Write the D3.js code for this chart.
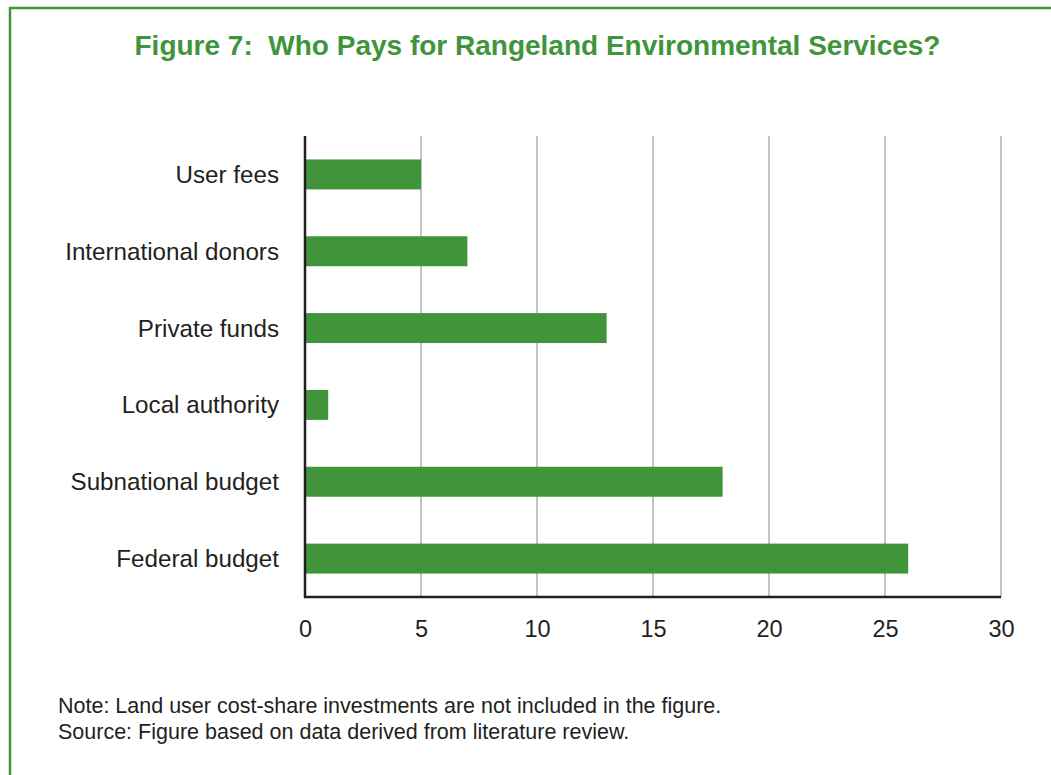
<!DOCTYPE html>
<html>
<head>
<meta charset="utf-8">
<script src="https://cdn.jsdelivr.net/npm/d3@7"></script>
<style>
  html, body { margin: 0; padding: 0; background: #fff; }
  svg { display: block; }
  text { font-family: "Liberation Sans", Arial, Helvetica, sans-serif; }
</style>
</head>
<body>
<svg id="chart" width="1051" height="775"></svg>
<script>
// Funding sources and the number of cases paid by each
const categories = ["User fees", "International donors", "Private funds", "Local authority", "Subnational budget", "Federal budget"];
const values = [5, 7, 13, 1, 18, 26];
const xTicks = [0, 5, 10, 15, 20, 25, 30];

const titleText = "Figure 7:  Who Pays for Rangeland Environmental Services?";
const noteLines = [
  "Note: Land user cost-share investments are not included in the figure.",
  "Source: Figure based on data derived from literature review."
];

const green = "#40953b";
const ink = "#231f20";

const svg = d3.select("#chart");
const W = 1051, H = 775;

// Frame: open box with green top and left rules
svg.append("path")
  .attr("d", `M10,${H} V8 H${W}`)
  .attr("fill", "none")
  .attr("stroke", green)
  .attr("stroke-width", 2.5);

// Title
svg.append("text")
  .attr("x", 537.5)
  .attr("y", 55)
  .attr("text-anchor", "middle")
  .attr("fill", green)
  .attr("font-size", 28)
  .attr("font-weight", "bold")
  .style("white-space", "pre")
  .text(titleText);

const plot = { left: 305, right: 1001, top: 136, bottom: 597 };

const x = d3.scaleLinear().domain([0, 30]).range([plot.left, plot.right]);
const y = d3.scaleBand().domain(categories).range([plot.top, plot.bottom]).paddingInner(0.61).paddingOuter(0.305);

// Vertical gridlines
svg.append("g")
  .selectAll("line")
  .data(xTicks.filter(d => d > 0))
  .join("line")
  .attr("x1", d => x(d)).attr("x2", d => x(d))
  .attr("y1", plot.top).attr("y2", plot.bottom)
  .attr("stroke", "#8a8a8a")
  .attr("stroke-width", 1);

// Bars
svg.append("g")
  .selectAll("rect")
  .data(categories.map((c, i) => ({ c, v: values[i] })))
  .join("rect")
  .attr("x", x(0))
  .attr("y", d => y(d.c))
  .attr("width", d => x(d.v) - x(0))
  .attr("height", y.bandwidth())
  .attr("fill", green);

// Bottom axis
const xAxis = svg.append("g")
  .attr("transform", `translate(0,${plot.bottom})`)
  .call(d3.axisBottom(x).tickValues(xTicks).tickSize(0).tickPadding(0));
xAxis.select(".domain").remove();
xAxis.selectAll("text")
  .attr("y", 40)
  .attr("dy", null)
  .attr("fill", ink)
  .attr("font-size", 23.5)
  .attr("font-family", null);

svg.append("line")
  .attr("x1", plot.left - 1).attr("x2", plot.right)
  .attr("y1", plot.bottom).attr("y2", plot.bottom)
  .attr("stroke", ink).attr("stroke-width", 2.5);

// Left axis
const yAxis = svg.append("g")
  .attr("transform", `translate(${plot.left},0)`)
  .call(d3.axisLeft(y).tickSize(0).tickPadding(26));
yAxis.select(".domain").remove();
yAxis.selectAll("text")
  .attr("fill", ink)
  .attr("font-size", 24.2)
  .attr("font-family", null)
  .attr("dy", "0.35em");

svg.append("line")
  .attr("x1", plot.left).attr("x2", plot.left)
  .attr("y1", plot.top).attr("y2", plot.bottom + 1)
  .attr("stroke", ink).attr("stroke-width", 2.5);

// Notes
svg.append("g")
  .selectAll("text")
  .data(noteLines)
  .join("text")
  .attr("x", 58)
  .attr("y", (d, i) => 713 + i * 25.5)
  .attr("fill", ink)
  .attr("font-size", 21.5)
  .text(d => d);
</script>
</body>
</html>
